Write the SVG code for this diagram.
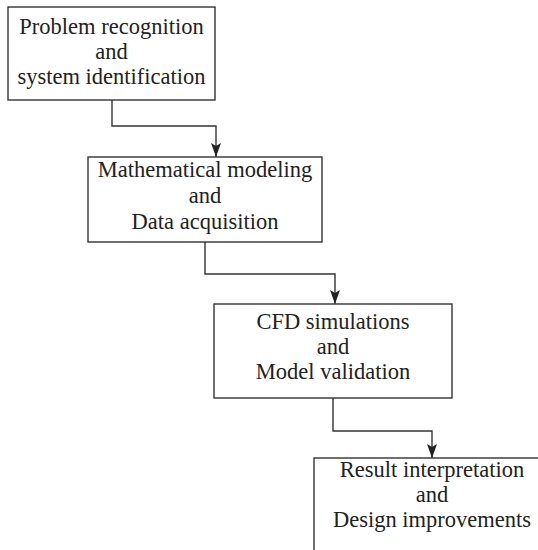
<svg xmlns="http://www.w3.org/2000/svg" width="538" height="550" viewBox="0 0 538 550">
  <style>
    .box { fill: #ffffff; stroke: #333333; stroke-width: 1.4; }
    .lbl { font-family: "Liberation Serif", "Times New Roman", serif; font-size: 22.5px; fill: #222222; text-anchor: middle; }
    .link { fill: none; stroke: #333333; stroke-width: 1.4; marker-end: url(#head); }
  </style>
  <defs>
    <!-- arrowhead drawn along +x; orient="auto" turns it to the line direction -->
    <marker id="head" viewBox="0 0 14 10" refX="14" refY="5" markerWidth="14" markerHeight="10" markerUnits="userSpaceOnUse" orient="auto">
      <path d="M0,0 L14,5 L0,10 L3,5 Z" fill="#222222"/>
    </marker>
  </defs>
  <rect width="538" height="550" fill="#ffffff"/>

  <g id="connectors">
    <path class="link" d="M112,100 V126 H216 V157"/>
    <path class="link" d="M205,242 V274 H335 V304"/>
    <path class="link" d="M333,398 V431 H432 V458"/>
  </g>

  <g id="problem">
    <rect class="box" x="8" y="7" width="207" height="93"/>
    <text class="lbl" x="111.5" y="34">Problem recognition</text>
    <text class="lbl" x="111.5" y="59">and</text>
    <text class="lbl" x="111.5" y="84">system identification</text>
  </g>

  <g id="modeling">
    <rect class="box" x="88" y="157" width="234" height="85"/>
    <text class="lbl" x="205" y="177">Mathematical modeling</text>
    <text class="lbl" x="205" y="203">and</text>
    <text class="lbl" x="205" y="229">Data acquisition</text>
  </g>

  <g id="simulation">
    <rect class="box" x="214" y="304" width="238" height="94"/>
    <text class="lbl" x="333" y="329">CFD simulations</text>
    <text class="lbl" x="333" y="354">and</text>
    <text class="lbl" x="333" y="379">Model validation</text>
  </g>

  <g id="interpretation">
    <rect class="box" x="314" y="458" width="240" height="110"/>
    <text class="lbl" x="432" y="477">Result interpretation</text>
    <text class="lbl" x="432" y="502">and</text>
    <text class="lbl" x="432" y="527">Design improvements</text>
  </g>
</svg>
